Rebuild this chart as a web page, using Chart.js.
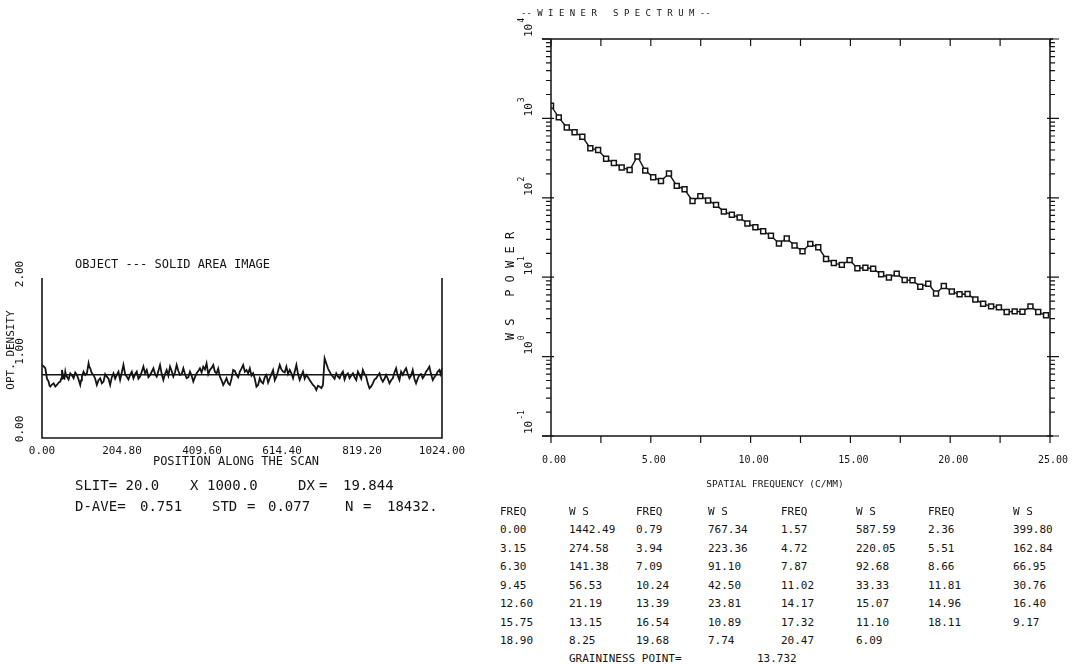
<!DOCTYPE html>
<html>
<head>
<meta charset="utf-8">
<script src="https://cdn.jsdelivr.net/npm/chart.js@4.4.1/dist/chart.umd.min.js"></script>
<style>
  body { margin: 0; background: #fff; width: 1073px; height: 665px; position: relative; overflow: hidden;
         font-family: "DejaVu Sans Mono", monospace; color: #141414; }
  canvas { position: absolute; }
  .t { position: absolute; white-space: pre; line-height: 1; }
</style>
</head>
<body>
<canvas id="scan" width="490" height="250" style="left:0;top:240px"></canvas>
<canvas id="ws" width="583" height="500" style="left:490px;top:0"></canvas>
<div id="text"></div>
<script>
// ---- left plot: density trace along the scan ----
const scanPos = [
  0.0, 8.5, 17.0, 21.3, 29.8, 38.3, 46.8, 51.1, 55.3, 59.6,
  63.8, 72.4, 80.9, 89.4, 97.9, 102.1, 110.7, 119.2, 123.4, 131.9,
  140.4, 149.0, 157.5, 166.0, 174.5, 183.0, 191.5, 200.0, 208.5, 217.1,
  225.6, 234.1, 242.6, 251.1, 259.6, 268.1, 276.6, 285.2, 293.7, 302.2,
  310.7, 319.2, 327.7, 336.2, 344.7, 353.3, 361.8, 370.3, 378.8, 387.3,
  395.8, 404.3, 412.8, 421.3, 429.9, 438.4, 446.9, 455.4, 463.9, 472.4,
  480.9, 489.4, 498.0, 506.5, 515.0, 523.5, 532.0, 540.5, 549.0, 557.5,
  566.0, 574.6, 583.1, 591.6, 600.1, 608.6, 617.1, 625.6, 634.1, 642.7,
  651.2, 659.7, 668.2, 676.7, 685.2, 693.7, 702.2, 710.8, 719.3, 723.5,
  732.0, 736.3, 744.8, 753.3, 761.8, 770.3, 778.8, 787.4, 795.9, 804.4,
  812.9, 821.4, 829.9, 838.4, 846.9, 855.5, 864.0, 872.5, 881.0, 889.5,
  898.0, 906.5, 915.0, 923.6, 932.1, 940.6, 949.1, 957.6, 966.1, 974.6,
  983.1, 991.7, 1000.2, 1008.7, 1017.2, 1024.0
];
const scanDensity = [
  0.878, 0.835, 0.663, 0.598, 0.641, 0.620, 0.663, 0.813, 0.706, 0.792,
  0.727, 0.770, 0.706, 0.749, 0.620, 0.727, 0.749, 0.899, 0.835, 0.749,
  0.620, 0.706, 0.663, 0.727, 0.620, 0.770, 0.749, 0.684, 0.878, 0.727,
  0.749, 0.706, 0.792, 0.727, 0.856, 0.813, 0.749, 0.835, 0.727, 0.878,
  0.684, 0.813, 0.856, 0.727, 0.878, 0.749, 0.835, 0.706, 0.792, 0.663,
  0.770, 0.835, 0.856, 0.899, 0.813, 0.878, 0.770, 0.727, 0.620, 0.706,
  0.620, 0.813, 0.749, 0.792, 0.878, 0.813, 0.835, 0.770, 0.598, 0.706,
  0.641, 0.749, 0.706, 0.813, 0.727, 0.878, 0.792, 0.856, 0.813, 0.706,
  0.878, 0.684, 0.792, 0.749, 0.684, 0.620, 0.555, 0.598, 0.620, 0.963,
  0.835, 0.792, 0.727, 0.770, 0.706, 0.792, 0.749, 0.706, 0.770, 0.684,
  0.749, 0.813, 0.727, 0.577, 0.641, 0.706, 0.770, 0.663, 0.749, 0.641,
  0.706, 0.835, 0.684, 0.749, 0.835, 0.706, 0.813, 0.641, 0.749, 0.706,
  0.792, 0.856, 0.684, 0.749, 0.813, 0.835
];
// readings half way between the samples above (the trace is very jagged)
const scanMid = [
  0.860, 0.700, 0.610, 0.625, 0.600, 0.650, 0.700, 0.760, 0.700, 0.740,
  0.690, 0.745, 0.780, 0.690, 0.680, 0.790, 0.770, 0.850, 0.770, 0.700,
  0.680, 0.640, 0.760, 0.700, 0.720, 0.700, 0.790, 0.780, 0.760, 0.690,
  0.790, 0.760, 0.700, 0.790, 0.770, 0.720, 0.790, 0.760, 0.800, 0.760,
  0.760, 0.740, 0.800, 0.780, 0.800, 0.760, 0.760, 0.720, 0.740, 0.720,
  0.800, 0.780, 0.820, 0.760, 0.840, 0.790, 0.830, 0.680, 0.660, 0.640,
  0.700, 0.800, 0.720, 0.830, 0.790, 0.770, 0.740, 0.700, 0.620, 0.660,
  0.720, 0.650, 0.760, 0.680, 0.800, 0.820, 0.780, 0.760, 0.770, 0.790,
  0.760, 0.740, 0.700, 0.720, 0.650, 0.600, 0.610, 0.580, 0.800, 0.900,
  0.810, 0.750, 0.700, 0.730, 0.760, 0.690, 0.770, 0.740, 0.720, 0.790,
  0.700, 0.760, 0.640, 0.600, 0.690, 0.740, 0.700, 0.700, 0.700, 0.680,
  0.780, 0.740, 0.790, 0.800, 0.760, 0.740, 0.700, 0.700, 0.760, 0.740,
  0.820, 0.760, 0.720, 0.790, 0.760
];
const densityAve = 0.751;
const scanTicks = [0, 204.8, 409.6, 614.4, 819.2, 1024];
const densityTicks = [0, 1, 2];

// ---- right plot: Wiener spectrum ----
const freq = [
  0.00, 0.39, 0.79, 1.18, 1.57, 1.97, 2.36, 2.76, 3.15, 3.54,
  3.94, 4.33, 4.72, 5.12, 5.51, 5.91, 6.30, 6.69, 7.09, 7.48,
  7.87, 8.27, 8.66, 9.06, 9.45, 9.84, 10.24, 10.63, 11.02, 11.42,
  11.81, 12.20, 12.60, 12.99, 13.39, 13.78, 14.17, 14.57, 14.96, 15.35,
  15.75, 16.14, 16.54, 16.93, 17.32, 17.72, 18.11, 18.50, 18.90, 19.29,
  19.68, 20.08, 20.47, 20.87, 21.26, 21.65, 22.05, 22.44, 22.83, 23.23,
  23.62, 24.02, 24.41, 24.80
];
const wsPower = [
  1442.49, 1030, 767.34, 668, 587.59, 421, 399.80, 310, 274.58, 241,
  223.36, 331, 220.05, 182, 162.84, 202, 141.38, 128, 91.10, 105,
  92.68, 81.4, 66.95, 61, 56.53, 47.5, 42.50, 38, 33.33, 26.6,
  30.76, 25.1, 21.19, 26.3, 23.81, 17.0, 15.07, 14.3, 16.40, 13.0,
  13.15, 12.8, 10.89, 9.9, 11.10, 9.2, 9.17, 7.57, 8.25, 6.25,
  7.74, 6.6, 6.09, 6.13, 5.25, 4.62, 4.29, 4.17, 3.64, 3.71,
  3.67, 4.29, 3.64, 3.31
];
const freqLabels = [0, 5, 10, 15, 20, 25];
const freqTickMarks = [0, 2.5, 5, 7.5, 10, 12.5, 15, 17.5, 20, 22.5, 25];
const powerExponents = [-1, 0, 1, 2, 3, 4];
const graininess = 13.732;

const INK = '#141414';
const MONO = '"DejaVu Sans Mono", monospace';

function rotText(ctx, text, x, y, align) {
  ctx.save();
  ctx.translate(x, y);
  ctx.rotate(-Math.PI / 2);
  ctx.textAlign = align || 'center';
  ctx.textBaseline = 'middle';
  ctx.fillText(text, 0, 0);
  ctx.restore();
}

const scanFrame = {
  id: 'scanFrame',
  afterDraw(chart) {
    const { ctx, chartArea: a, scales: { x, y } } = chart;
    ctx.save();
    ctx.strokeStyle = INK;
    ctx.lineWidth = 1.6;
    ctx.beginPath();
    ctx.moveTo(a.left, a.top); ctx.lineTo(a.left, a.bottom);
    ctx.lineTo(a.right, a.bottom); ctx.lineTo(a.right, a.top);
    ctx.stroke();
    ctx.fillStyle = INK;
    ctx.font = '11px ' + MONO;
    ctx.textAlign = 'center';
    ctx.textBaseline = 'middle';
    scanTicks.forEach(v => ctx.fillText(v.toFixed(2), x.getPixelForValue(v), 211));
    ctx.font = '12px ' + MONO;
    ctx.fillText('POSITION ALONG THE SCAN', 236, 222);
    ctx.textAlign = 'left';
    ctx.fillText('OBJECT --- SOLID AREA IMAGE', 75, 25);
    ctx.font = '11px ' + MONO;
    densityTicks.forEach(v => rotText(ctx, v.toFixed(2), 20, y.getPixelForValue(v) - 4));
    rotText(ctx, 'OPT. DENSITY', 11, 110);
    ctx.restore();
  }
};

const wsFrame = {
  id: 'wsFrame',
  afterDraw(chart) {
    const { ctx, chartArea: a, scales: { x, y } } = chart;
    ctx.save();
    ctx.strokeStyle = INK;
    ctx.lineWidth = 1.5;
    ctx.beginPath();
    ctx.moveTo(a.left - 9, a.top); ctx.lineTo(a.right + 3, a.top);
    ctx.moveTo(a.left - 9, a.bottom); ctx.lineTo(a.right + 3, a.bottom);
    ctx.moveTo(a.left, a.top); ctx.lineTo(a.left, a.bottom);
    ctx.moveTo(a.right, a.top); ctx.lineTo(a.right, a.bottom);
    ctx.stroke();
    ctx.lineWidth = 1.2;
    ctx.beginPath();
    freqTickMarks.forEach(v => {
      const px = x.getPixelForValue(v);
      ctx.moveTo(px, a.top); ctx.lineTo(px, a.top + 7);
      ctx.moveTo(px, a.bottom); ctx.lineTo(px, a.bottom + 7);
    });
    for (let n = -1; n < 4; n++) {
      for (let k = 1; k < 10; k++) {
        const py = y.getPixelForValue(k * Math.pow(10, n));
        const len = k === 1 ? 9 : 5;
        const inn = k === 1 ? 3 : 0;
        ctx.moveTo(a.left - len, py); ctx.lineTo(a.left + inn, py);
        ctx.moveTo(a.right + len, py); ctx.lineTo(a.right - inn, py);
      }
    }
    const top = y.getPixelForValue(10000);
    ctx.moveTo(a.left - 9, top); ctx.lineTo(a.left, top);
    ctx.moveTo(a.right + 9, top); ctx.lineTo(a.right, top);
    ctx.stroke();

    ctx.fillStyle = INK;
    // decade labels, rotated, with raised exponent
    powerExponents.forEach(n => {
      const py = y.getPixelForValue(Math.pow(10, n));
      ctx.save();
      ctx.translate(39, py - 2);
      ctx.rotate(-Math.PI / 2);
      ctx.textAlign = 'left';
      ctx.textBaseline = 'middle';
      ctx.font = '11px ' + MONO;
      ctx.fillText('10', 0, 0);
      const w = ctx.measureText('10').width;
      ctx.font = '8px ' + MONO;
      ctx.fillText(String(n), w + 1, -7);
      ctx.restore();
    });
    ctx.font = '10px ' + MONO;
    ctx.textAlign = 'center';
    ctx.textBaseline = 'middle';
    freqLabels.forEach(v => ctx.fillText(v.toFixed(2), x.getPixelForValue(v) + 3, 460));
    ctx.font = '9.5px ' + MONO;
    ctx.fillText('SPATIAL FREQUENCY (C/MM)', 285, 485);
    ctx.font = '9px ' + MONO;
    ctx.textAlign = 'left';
    ctx.fillText('-- W I E N E R   S P E C T R U M --', 31, 14);
    ctx.font = '12px ' + MONO;
    rotText(ctx, 'W S   P O W E R', 21, 286);
    ctx.restore();
  }
};

const scanPoints = [];
scanPos.forEach((p, i) => {
  scanPoints.push({ x: p, y: scanDensity[i] });
  if (i < scanMid.length) scanPoints.push({ x: (p + scanPos[i + 1]) / 2, y: scanMid[i] });
});

new Chart(document.getElementById('scan'), {
  type: 'line',
  data: {
    datasets: [
      {
        data: scanPoints,
        borderColor: INK, borderWidth: 1.8, pointRadius: 0, tension: 0
      },
      {
        data: [{ x: 0, y: densityAve }, { x: 1024, y: densityAve }],
        borderColor: INK, borderWidth: 1.4, pointRadius: 0
      }
    ]
  },
  options: {
    responsive: false, animation: false, devicePixelRatio: 1,
    layout: { padding: { left: 42, right: 48, top: 38, bottom: 52 } },
    plugins: { legend: { display: false }, tooltip: { enabled: false } },
    scales: {
      x: { type: 'linear', min: 0, max: 1024, display: false },
      y: { type: 'linear', min: -0.065, max: 2.0, display: false }
    }
  },
  plugins: [scanFrame]
});

new Chart(document.getElementById('ws'), {
  type: 'line',
  data: {
    datasets: [{
      data: freq.map((f, i) => ({ x: f, y: wsPower[i] })),
      borderColor: INK, borderWidth: 1.4, tension: 0,
      pointStyle: 'rect', pointRadius: 3.5, pointBorderWidth: 1.5,
      pointBorderColor: INK, pointBackgroundColor: '#fff'
    }]
  },
  options: {
    responsive: false, animation: false, devicePixelRatio: 1,
    layout: { padding: { left: 61, right: 23, top: 39, bottom: 64 } },
    plugins: { legend: { display: false }, tooltip: { enabled: false } },
    scales: {
      x: { type: 'linear', min: 0, max: 25, display: false },
      y: { type: 'logarithmic', min: 0.1, max: 10000, display: false }
    }
  },
  plugins: [wsFrame]
});

// ---- text blocks ----
const box = document.getElementById('text');
function put(str, x, y, size) {
  const d = document.createElement('div');
  d.className = 't';
  d.style.left = x + 'px';
  d.style.top = (y - size / 2) + 'px';
  d.style.fontSize = size + 'px';
  d.textContent = str;
  box.appendChild(d);
}
// scan statistics
put('SLIT= 20.0', 75, 485, 14);
put('X', 190, 485, 14);
put('1000.0', 207, 485, 14);
put('DX', 298, 485, 14);
put('=', 319, 485, 14);
put('19.844', 343, 485, 14);
put('D-AVE=', 75, 506, 14);
put(densityAve.toFixed(3), 140, 506, 14);
put('STD', 212, 506, 14);
put('=', 247, 506, 14);
put('0.077', 268, 506, 14);
put('N', 345, 506, 14);
put('=', 363, 506, 14);
put('18432.', 387, 506, 14);

// frequency / power table from the even samples
const colX = [500, 569, 636, 708, 781, 856, 928, 1013];
const rowY = [511, 529.5, 548, 566.5, 585, 603.5, 622, 640.5];
['FREQ', 'W S', 'FREQ', 'W S', 'FREQ', 'W S', 'FREQ', 'W S'].forEach((h, c) => put(h, colX[c], rowY[0], 11));
for (let j = 0; 2 * j <= 52; j++) {
  const i = 2 * j, r = Math.floor(j / 4) + 1, c = j % 4;
  put(freq[i].toFixed(2), colX[2 * c], rowY[r], 11);
  put(wsPower[i].toFixed(2), colX[2 * c + 1], rowY[r], 11);
}
put('GRAININESS POINT=', 569, 658, 11);
put(graininess.toFixed(3), 757, 658, 11);
</script>
</body>
</html>
